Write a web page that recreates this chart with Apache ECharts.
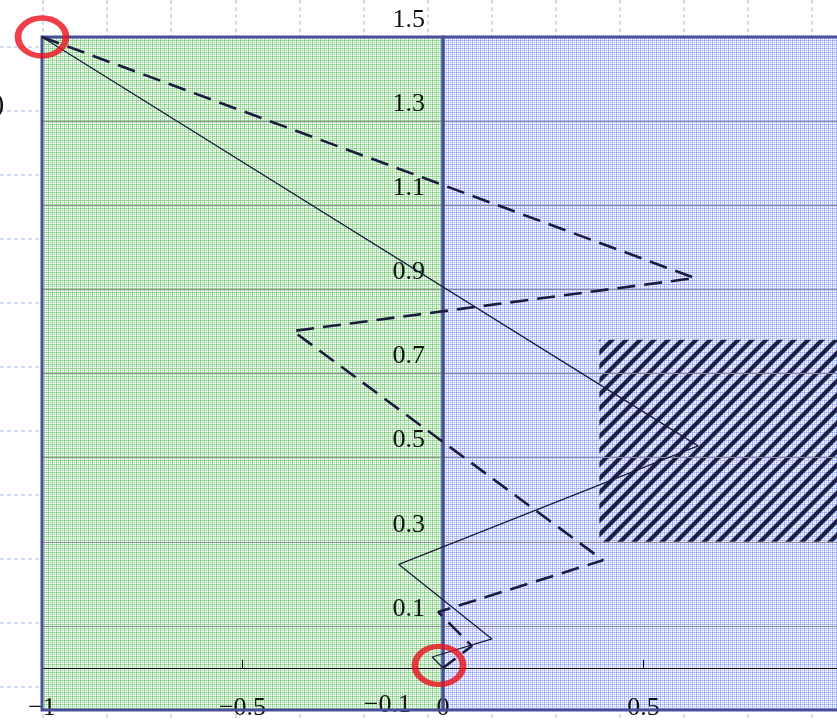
<!DOCTYPE html>
<html><head><meta charset="utf-8">
<script src="https://cdn.jsdelivr.net/npm/echarts@6/dist/echarts.min.js"></script>
<style>html,body{margin:0;padding:0;background:#fff}#c{width:837px;height:720px}</style>
</head><body><div id="c"></div>
<script>
// ---- data ----
const xTickValues = [-1, -0.5, 0, 0.5];
const yTickValues = [-0.1, 0.1, 0.3, 0.5, 0.7, 0.9, 1.1, 1.3, 1.5];
const solidPath = [[-1, 1.5], [0.636, 0.528], [-0.11, 0.246], [0.122, 0.069], [-0.027, 0.026], [0, 0]];
const dashedPath = [[-1, 1.5], [0.628, 0.927], [-0.374, 0.801], [0.399, 0.256], [-0.012, 0.133], [0.072, 0.052], [0, 0]];
const regionGreen = [-1, 0, -0.1, 1.5];
const regionBlue = [0, 1.2, -0.1, 1.5];
const regionHatch = [0.39, 1.2, 0.30, 0.78];
const markedPoints = [[-1, 1.5], [-0.01, 0.006]];

// ---- patterns ----
function plaid(rgb, a1, a2) {
  const c = document.createElement('canvas'); c.width = 4; c.height = 4;
  const g = c.getContext('2d');
  g.fillStyle = '#ffffff'; g.fillRect(0, 0, 4, 4);
  g.fillStyle = 'rgba(' + rgb + ',' + a1 + ')'; g.fillRect(0, 0, 1, 4); g.fillRect(0, 0, 4, 1);
  g.fillStyle = 'rgba(' + rgb + ',' + a2 + ')'; g.fillRect(2, 0, 1, 4); g.fillRect(0, 2, 4, 1);
  return { image: c, repeat: 'repeat' };
}
function hatch() {
  const s = 14;
  const c = document.createElement('canvas'); c.width = s; c.height = s;
  const g = c.getContext('2d');
  g.strokeStyle = '#1b1f45'; g.lineWidth = 4.2;
  g.beginPath();
  g.moveTo(-s, s); g.lineTo(s, -s);
  g.moveTo(0, 2 * s); g.lineTo(2 * s, 0);
  g.moveTo(-s, 2 * s); g.lineTo(2 * s, -s);
  g.stroke();
  return { image: c, repeat: 'repeat' };
}
const fills = [plaid('80,185,80', 0.5, 0.26), plaid('110,130,240', 0.5, 0.26)];
const hatchFill = hatch();

const FONT = "'Liberation Serif', 'DejaVu Serif', serif";
const fmt = v => { const r = Math.round(v * 10) / 10; return String(r).replace('-', '\u2212'); };

// plot geometry (grid) and x range
const GRID_LEFT = 42, X_MIN = -1, X_MAX = 0.9825, CHART_W = 837, CHART_H = 720;
const yAxisOffset = -((0 - X_MIN) / (X_MAX - X_MIN)) * (CHART_W - GRID_LEFT);
// background paper grid: cell size and origin (in px)
const CELL_W = 64.1, CELL_H = 64, CELL_X0 = 43, CELL_Y0 = 47;

function rectItem(params, api, style) {
  const p0 = api.coord([api.value(0), api.value(3)]);
  const p1 = api.coord([api.value(1), api.value(2)]);
  const cs = params.coordSys;
  const right = Math.min(p1[0], cs.x + cs.width + 10);
  return { type: 'rect', shape: { x: p0[0], y: p0[1], width: right - p0[0], height: p1[1] - p0[1] }, style: style };
}

const outerSplit = { show: true, showMinLine: false, showMaxLine: false, lineStyle: { color: '#c6d0f2', width: 1.5, type: [4, 3] } };

const chart = echarts.init(document.getElementById('c'), null, { renderer: 'canvas' });
chart.setOption({
  animation: false,
  backgroundColor: '#ffffff',
  title: { text: ')', left: -10, top: 86, textStyle: { fontFamily: FONT, fontSize: 28, fontWeight: 'normal', color: '#111' } },
  grid: [
    { left: GRID_LEFT, right: 0, top: 37, bottom: 10, containLabel: false, outerBoundsMode: 'none' },
    { left: 0, right: 0, top: 0, bottom: 0, containLabel: false, outerBoundsMode: 'none' }
  ],
  xAxis: [
    { type: 'value', gridIndex: 0, position: 'top', min: X_MIN, max: X_MAX, interval: 0.5, z: 3,
      axisLine: { show: true, onZero: true, lineStyle: { color: '#000', width: 1 } },
      axisTick: { show: true, inside: false, length: 8, lineStyle: { color: '#000', width: 1 } },
      axisLabel: { show: false }, splitLine: { show: false } },
    { type: 'value', gridIndex: 0, position: 'bottom', min: X_MIN, max: X_MAX, interval: 0.5, z: 3,
      axisLine: { show: false, onZero: false }, axisTick: { show: false }, splitLine: { show: false },
      axisLabel: { show: true, margin: -2, verticalAlign: 'middle', fontFamily: FONT, fontSize: 26, color: '#111',
        formatter: v => xTickValues.some(t => Math.abs(t - v) < 1e-6) ? fmt(v) : '' } },
    { type: 'value', gridIndex: 1, min: -CELL_X0 / CELL_W, max: (CHART_W - CELL_X0) / CELL_W, minInterval: 1, maxInterval: 1, z: 0,
      axisLine: { show: false }, axisTick: { show: false }, axisLabel: { show: false }, splitLine: outerSplit }
  ],
  yAxis: [
    { type: 'value', gridIndex: 0, position: 'left', offset: yAxisOffset, min: -0.1, max: 1.5, interval: 0.2, z: 3,
      axisLine: { show: false, onZero: false }, axisTick: { show: false },
      splitLine: { show: true, showMinLine: false, showMaxLine: false, lineStyle: { color: '#8e8e9e', width: 1 } },
      axisLabel: { show: true, margin: 18, verticalAlign: 'bottom', lineHeight: 26, padding: [0, 0, 4, 0],
        fontFamily: FONT, fontSize: 26, color: '#111',
        formatter: v => {
          if (!yTickValues.some(t => Math.abs(t - v) < 1e-6)) return '';
          return v < 0 ? '{m|' + fmt(v) + '}' : fmt(v);
        },
        rich: { m: { fontFamily: FONT, fontSize: 26, color: '#111', lineHeight: 2, padding: [0, 14, 0, 0] } } } },
    { type: 'value', gridIndex: 1, inverse: true, min: -CELL_Y0 / CELL_H, max: (CHART_H - CELL_Y0) / CELL_H, minInterval: 1, maxInterval: 1, z: 0,
      axisLine: { show: false }, axisTick: { show: false }, axisLabel: { show: false }, splitLine: outerSplit }
  ],
  series: [
    { type: 'custom', name: 'regions', xAxisIndex: 0, yAxisIndex: 0, z: 2, silent: true,
      data: [regionGreen, regionBlue],
      renderItem: (params, api) => rectItem(params, api, { fill: fills[params.dataIndex] }) },
    { type: 'custom', name: 'hatch', xAxisIndex: 0, yAxisIndex: 0, z: 2, silent: true,
      data: [regionHatch],
      renderItem: (params, api) => rectItem(params, api, { fill: hatchFill }) },
    { type: 'custom', name: 'frames', xAxisIndex: 0, yAxisIndex: 0, z: 4, silent: true,
      data: [regionGreen, regionBlue],
      renderItem: (params, api) => rectItem(params, api, { fill: null, stroke: '#4a4f99', lineWidth: 3 }) },
    { type: 'line', name: 'solid', xAxisIndex: 0, yAxisIndex: 0, z: 5, data: solidPath,
      symbol: 'none', lineStyle: { color: '#1b1b3d', width: 1.3 }, clip: false },
    { type: 'line', name: 'dashed', xAxisIndex: 0, yAxisIndex: 0, z: 5, data: dashedPath,
      symbol: 'none', lineStyle: { color: '#1b1b3d', width: 2.6, type: [18, 9] }, clip: false },
    { type: 'scatter', name: 'marks', xAxisIndex: 0, yAxisIndex: 0, z: 6, data: markedPoints, clip: false,
      symbol: 'circle', symbolSize: [48, 38],
      itemStyle: { color: 'rgba(0,0,0,0)', borderColor: '#e8101a', borderWidth: 6 } }
  ]
});
</script></body></html>
